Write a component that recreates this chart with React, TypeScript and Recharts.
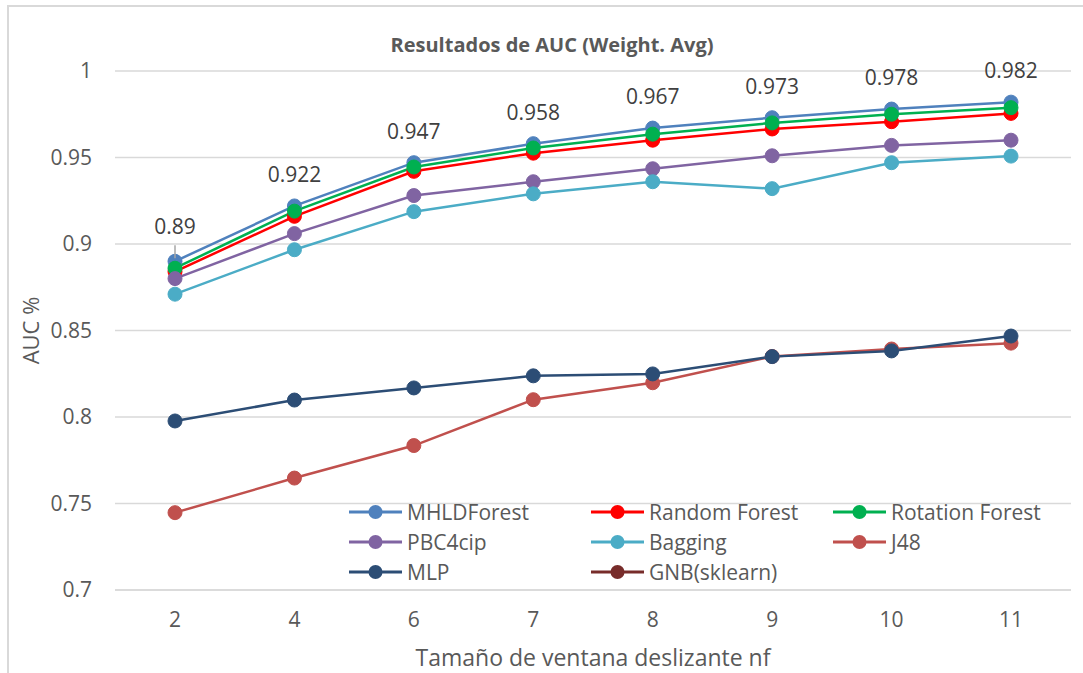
import React from 'react';
import { LineChart, Line, XAxis, YAxis, CartesianGrid, Legend, LabelList } from 'recharts';

const CATEGORIES = ['2', '4', '6', '7', '8', '9', '10', '11'];
const MHLD_FOREST = [0.89, 0.922, 0.947, 0.958, 0.967, 0.973, 0.978, 0.982];
const RANDOM_FOREST = [0.884, 0.916, 0.942, 0.9525, 0.96, 0.9665, 0.9707, 0.9755];
const ROTATION_FOREST = [0.886, 0.919, 0.9445, 0.9555, 0.9635, 0.97, 0.975, 0.9788];
const PBC4CIP = [0.88, 0.906, 0.928, 0.936, 0.9435, 0.951, 0.957, 0.96];
const BAGGING = [0.871, 0.8967, 0.9187, 0.929, 0.936, 0.932, 0.947, 0.9508];
const J48 = [0.7447, 0.7647, 0.7835, 0.81, 0.8198, 0.835, 0.8393, 0.8427];
const MLP = [0.7977, 0.8098, 0.8168, 0.8238, 0.8249, 0.8349, 0.8382, 0.8468];
const GNB = [null, null, null, null, null, null, null, null];
const Y_TICKS = [0.7, 0.75, 0.8, 0.85, 0.9, 0.95, 1];

const TITLE = 'Resultados de AUC (Weight. Avg)';
const X_TITLE = 'Tamaño de ventana deslizante nf';
const Y_TITLE = 'AUC %';

const SERIES = [
  { key: 'mhld', name: 'MHLDForest', color: '#4F81BD', values: MHLD_FOREST },
  { key: 'rf', name: 'Random Forest', color: '#FF0000', values: RANDOM_FOREST },
  { key: 'rotf', name: 'Rotation Forest', color: '#00B050', values: ROTATION_FOREST },
  { key: 'pbc', name: 'PBC4cip', color: '#8064A2', values: PBC4CIP },
  { key: 'bag', name: 'Bagging', color: '#4BACC6', values: BAGGING },
  { key: 'j48', name: 'J48', color: '#C0504D', values: J48 },
  { key: 'mlp', name: 'MLP', color: '#2C4D75', values: MLP },
  { key: 'gnb', name: 'GNB(sklearn)', color: '#772C2A', values: GNB },
];

const data = CATEGORIES.map((c, i) => {
  const row: any = { nf: c };
  SERIES.forEach((s) => {
    row[s.key] = s.values[i];
  });
  return row;
});

const FONT = "'Open Sans', sans-serif";
const TEXT = '#595959';
const GRID = '#D9D9D9';

const renderDataLabel = (props: any) => {
  const { x, y, value, index } = props;
  if (x == null || y == null || value == null) return null;
  const first = index === 0;
  return (
    <g>
      {first && <line x1={x} y1={y - 16} x2={x} y2={y - 3} stroke="#A6A6A6" strokeWidth={1.5} />}
      <text
        x={x}
        y={y - (first ? 27 : 24)}
        textAnchor="middle"
        fontFamily={FONT}
        fontSize={21}
        fill="#404040"
      >
        {String(value)}
      </text>
    </g>
  );
};

const renderLegend = () => {
  return (
    <div
      style={{
        display: 'grid',
        gridTemplateColumns: '242px 242px 242px',
        fontFamily: FONT,
      }}
    >
      {SERIES.map((it) => (
        <div key={it.key} style={{ display: 'flex', alignItems: 'center', height: 30 }}>
          <svg width={53} height={16} style={{ display: 'block' }}>
            <line x1={0} y1={8} x2={53} y2={8} stroke={it.color} strokeWidth={3} />
            <circle cx={26.5} cy={8} r={7} fill={it.color} />
          </svg>
          <span style={{ marginLeft: 5, fontSize: 21, color: TEXT, whiteSpace: 'nowrap' }}>{it.name}</span>
        </div>
      ))}
    </div>
  );
};

const renderYTitle = (props: any) => {
  const vb = props.viewBox || { x: 0, y: 0, width: 0, height: 0 };
  const x = vb.x + 39;
  const y = vb.y + vb.height / 2;
  return (
    <text
      x={x}
      y={y}
      transform={`rotate(-90, ${x}, ${y})`}
      textAnchor="middle"
      fontFamily={FONT}
      fontSize={22}
      fill={TEXT}
    >
      {Y_TITLE}
    </text>
  );
};

const renderXTitle = (props: any) => {
  const vb = props.viewBox || { x: 0, y: 0, width: 0, height: 0 };
  return (
    <text
      x={vb.x + vb.width / 2}
      y={vb.y + 76}
      textAnchor="middle"
      fontFamily={FONT}
      fontSize={23}
      fill={TEXT}
    >
      {X_TITLE}
    </text>
  );
};

export default function App() {
  return (
    <div
      style={{
        position: 'absolute',
        left: 0,
        top: 0,
        width: 1083,
        height: 673,
        overflow: 'hidden',
        background: '#fff',
      }}
    >
      <div
        style={{
          position: 'absolute',
          left: 7,
          top: 5,
          width: 1200,
          height: 800,
          borderLeft: `2px solid ${GRID}`,
          borderTop: `2px solid ${GRID}`,
        }}
      />
      <div
        style={{
          position: 'absolute',
          left: 552,
          top: 44,
          transform: 'translate(-50%, -50%)',
          whiteSpace: 'nowrap',
          fontFamily: FONT,
          fontWeight: 700,
          fontSize: 20,
          color: TEXT,
        }}
      >
        {TITLE}
      </div>
      <div style={{ position: 'absolute', left: 0, top: 0 }}>
        <LineChart width={1083} height={673} data={data} margin={{ top: 71, right: 12, bottom: 0, left: 0 }}>
          <CartesianGrid vertical={false} stroke={GRID} strokeWidth={1.5} />
          <XAxis
            dataKey="nf"
            height={83}
            padding={{ left: 60, right: 60 }}
            axisLine={{ stroke: GRID, strokeWidth: 1.5 }}
            tickLine={false}
            tickSize={0}
            tickMargin={22}
            tick={{ fontFamily: FONT, fontSize: 21, fill: TEXT }}
            label={{ content: renderXTitle }}
          />
          <YAxis
            width={115}
            domain={[0.7, 1]}
            ticks={Y_TICKS}
            allowDataOverflow
            axisLine={false}
            tickLine={false}
            tickSize={0}
            tickMargin={23}
            tick={{ fontFamily: FONT, fontSize: 21, fill: TEXT }}
            tickFormatter={(v: number) => String(v)}
            label={{ content: renderYTitle }}
          />
          <Legend
            layout="horizontal"
            verticalAlign="middle"
            align="center"
            content={renderLegend}
            wrapperStyle={{ left: 349, top: 497, width: 730, height: 90 }}
          />
          {SERIES.map((s) => (
            <Line
              key={s.key}
              dataKey={s.key}
              name={s.name}
              stroke={s.color}
              strokeWidth={2.5}
              dot={{ r: 7, fill: s.color, stroke: s.color, strokeWidth: 1 }}
              activeDot={false}
              isAnimationActive={false}
              connectNulls={false}
            >
              {s.key === 'mhld' && <LabelList dataKey={s.key} content={renderDataLabel} />}
            </Line>
          ))}
        </LineChart>
      </div>
    </div>
  );
}
